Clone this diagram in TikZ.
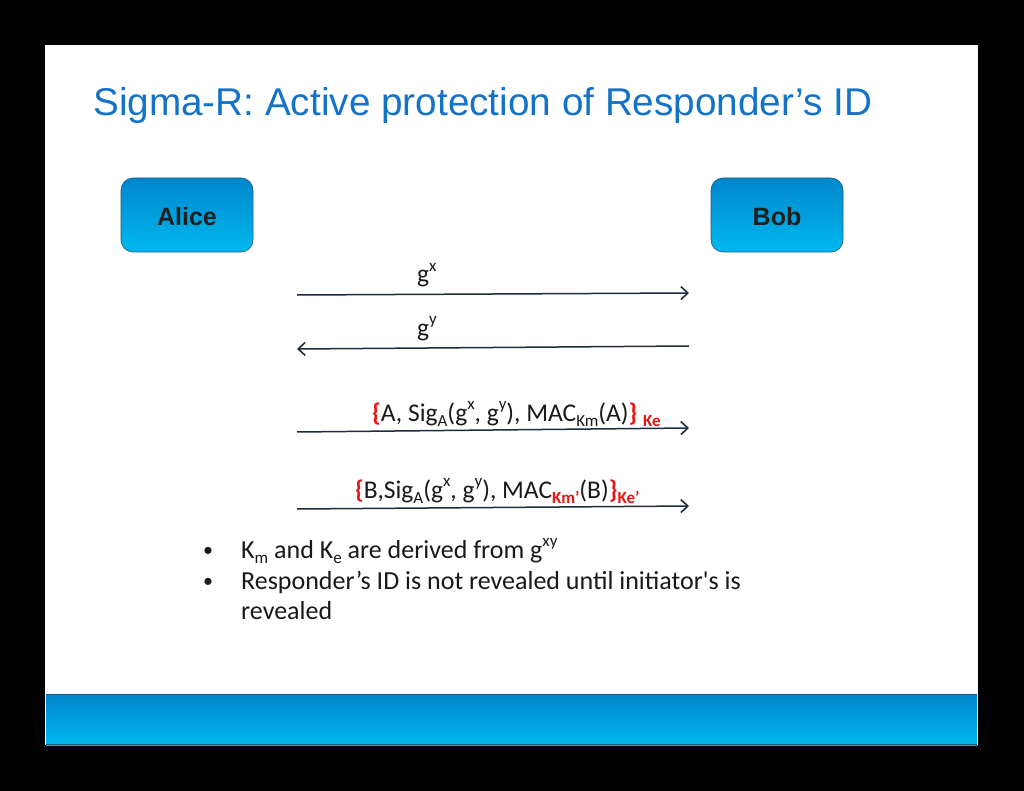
\documentclass[tikz,border=0pt]{standalone}
\usepackage{fontspec}
\setmainfont{Carlito}
\newfontfamily\arialf{Liberation Sans}
\usetikzlibrary{arrows.meta}
\definecolor{titleblue}{RGB}{20,115,200}
\definecolor{boxtop}{RGB}{0,134,204}
\definecolor{boxbot}{RGB}{0,184,238}
\definecolor{boxedge}{RGB}{30,90,130}
\definecolor{msgline}{RGB}{30,45,60}
\definecolor{txt}{RGB}{25,25,25}
\definecolor{keyred}{RGB}{235,20,20}
\newcommand\sps[1]{\raisebox{0.45em}{\fontsize{17}{17}\selectfont #1}}
\newcommand\sbs[1]{\raisebox{-0.22em}{\fontsize{17}{17}\selectfont #1}}
\newcommand\rsb[1]{\raisebox{-0.22em}{\fontsize{17}{17}\selectfont\bfseries\color{keyred}#1}}
\newcommand\rbr[1]{{\bfseries\color{keyred}#1}}
\tikzset{
  party/.style={draw=boxedge, line width=0.6pt, rounded corners=12pt, top color=boxtop, bottom color=boxbot,
    minimum width=132pt, minimum height=74pt, inner sep=0pt, text height=21pt, text depth=0pt,
    font=\arialf\bfseries\fontsize{25}{25}\selectfont, text=black!88},
  msg/.style={draw=msgline, line width=1.5pt, -{Straight Barb[length=7pt,width=13pt,line width=1.6pt]}},
  lbl/.style={anchor=base west, inner sep=0pt, text=txt, font=\fontsize{25.5}{25.5}\selectfont},
  bul/.style={anchor=base west, inner sep=0pt, text=txt, font=\fontsize{26}{26}\selectfont}
}
\begin{document}
\begin{tikzpicture}[x=1pt,y=-1pt]
\useasboundingbox (0,0) rectangle (1024,791);
\fill[black] (0,0) rectangle (1024,791);
\fill[white] (45,45) rectangle (978,745);
% bottom bar
\shade[top color=boxtop, bottom color=boxbot] (46,694) rectangle (977,745);
\draw[boxedge, line width=1pt] (46,694.5) -- (977,694.5);
\draw[boxedge, line width=1pt] (46,744.5) -- (977,744.5);
% title
\node[anchor=base west, inner sep=0pt, text=titleblue, font=\arialf\fontsize{38.7}{38.7}\selectfont] (title) at (93,116) {Sigma-R: Active protection of Responder’s ID};
% parties
\node[party] (alice) at (187,215) {Alice};
\node[party] (bob) at (777,215) {Bob};
% arrow endpoints
\coordinate (m1s) at (297,295); \coordinate (m1e) at (689,293);
\coordinate (m2s) at (689,346); \coordinate (m2e) at (297,349);
\coordinate (m3s) at (297,432); \coordinate (m3e) at (689,428);
\coordinate (m4s) at (297,509); \coordinate (m4e) at (689,506);
\draw[msg] (m1s) -- (m1e);
\draw[msg] (m2s) -- (m2e);
\draw[msg] (m3s) -- (m3e);
\draw[msg] (m4s) -- (m4e);
% labels
\node[lbl] (l1) at (417,283) {g\sps{x}};
\node[lbl] (l2) at (417,336) {g\sps{y}};
\node[lbl] (l3) at (372,421) {\rbr{\{}A, Sig\sbs{A}(g\sps{x}, g\sps{y}), MAC\sbs{Km}(A)\rbr{\}} \rsb{Ke}};
\node[lbl] (l4) at (355,498) {\rbr{\{}B,Sig\sbs{A}(g\sps{x}, g\sps{y}), MAC\rsb{Km’}(B)\rbr{\}}\rsb{Ke’}};
% bullets
\node[bul, font=\fontsize{20}{20}\selectfont] (b1d) at (203,556) {•};
\node[bul] (b1) at (241,558) {K\sbs{m} and K\sbs{e} are derived from g\sps{xy}};
\node[bul, font=\fontsize{20}{20}\selectfont] (b2d) at (203,587) {•};
\node[bul] (b2) at (241,589) {Responder’s ID is not revealed until initiator\textquotesingle s is};
\node[bul] (b3) at (241,619) {revealed};
\end{tikzpicture}
\end{document}
